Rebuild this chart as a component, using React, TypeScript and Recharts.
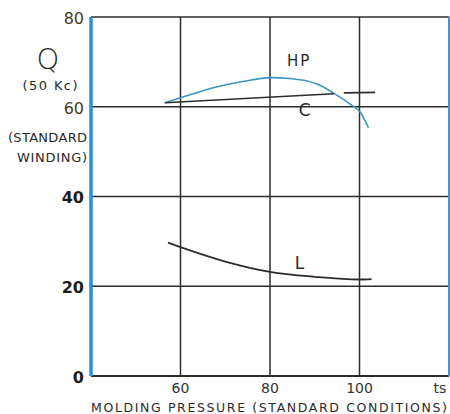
import { LineChart, Line, XAxis, YAxis, ReferenceLine, ReferenceDot } from 'recharts';

const xTicks = [60, 80, 100];
const yTicks = [0, 20, 40, 60, 80];
const hpCurve = [
  { p: 56.5, q: 60.9 },
  { p: 60.3, q: 62.1 },
  { p: 68, q: 64.4 },
  { p: 75.5, q: 65.9 },
  { p: 80, q: 66.5 },
  { p: 84.5, q: 66.3 },
  { p: 90.4, q: 65.1 },
  { p: 94.1, q: 63.1 },
  { p: 97.9, q: 60.6 },
  { p: 100.3, q: 58.6 },
  { p: 102, q: 55.3 },
];
const cLine = [
  { p: 56.5, q: 60.9 },
  { p: 94.3, q: 62.9 },
  { p: 95.2, q: null },
  { p: 96.5, q: 63.1 },
  { p: 103.5, q: 63.2 },
];
const lCurve = [
  { p: 57.2, q: 29.7 },
  { p: 60, q: 28.7 },
  { p: 70, q: 25.5 },
  { p: 80, q: 23.2 },
  { p: 90, q: 22.1 },
  { p: 100, q: 21.5 },
  { p: 102.7, q: 21.6 },
];
const curveLabels = [
  { text: 'HP', p: 86.5, q: 70.2 },
  { text: 'C', p: 88, q: 59.2 },
  { text: 'L', p: 86.8, q: 25.3 },
];

const ink = '#2b2d2c';
const blue = '#2a8fd8';
const font = '"DejaVu Sans", sans-serif';

const YTick = (props: any) => {
  const v = props.payload.value;
  const brown = v >= 60;
  return (
    <text x={84} y={props.y + 1} dy="0.36em" textAnchor="end" fontFamily={font}
      fontSize={16} fontWeight={v <= 40 ? 700 : 400} fill={brown ? '#4a3a22' : '#1c1c1c'}>
      {v}
    </text>
  );
};

const XTick = (props: any) => (
  <text x={props.x} y={props.y} dy="0.71em" textAnchor="middle" fontFamily={font} fontSize={14} fill="#333">
    {props.payload.value}
  </text>
);

export default function App() {
  return (
    <div style={{ position: 'absolute', left: 0, top: 0, width: 450, height: 414, background: '#fff' }}>
      <LineChart width={450} height={414} margin={{ top: 17, right: 1, bottom: 0, left: 0 }}>
        <XAxis type="number" dataKey="p" domain={[40, 120]} ticks={xTicks} allowDataOverflow
          axisLine={false} tickLine={false} tickSize={0} tickMargin={7} height={38} tick={XTick} />
        <YAxis type="number" domain={[0, 80]} ticks={yTicks} axisLine={false} tickLine={false}
          tickSize={0} width={91} tick={YTick} />
        {[20, 40, 60, 80].map((v) => (
          <ReferenceLine key={'h' + v} y={v} stroke={ink} strokeWidth={1.5} />
        ))}
        {xTicks.map((v) => (
          <ReferenceLine key={'v' + v} x={v} stroke={ink} strokeWidth={1.5} />
        ))}
        <ReferenceLine y={0} stroke={ink} strokeWidth={2} />
        <ReferenceLine x={120} stroke="#3a9ad0" strokeWidth={2} />
        <ReferenceLine x={40} stroke={blue} strokeWidth={3.5} />
        <Line data={hpCurve} dataKey="q" type="monotone" stroke="#3d95c4" strokeWidth={1.6} dot={false} isAnimationActive={false} />
        <Line data={cLine} dataKey="q" type="linear" stroke={ink} strokeWidth={1.6} dot={false} isAnimationActive={false} />
        <Line data={lCurve} dataKey="q" type="monotone" stroke={ink} strokeWidth={1.8} dot={false} isAnimationActive={false} />
        {curveLabels.map((l) => (
          <ReferenceDot key={l.text} x={l.p} y={l.q} r={0} stroke="none"
            label={{ value: l.text, position: 'center', fontFamily: font, fontSize: l.text === 'HP' ? 15 : 17, fill: '#2a2a2a', letterSpacing: 2 }} />
        ))}
      </LineChart>
      <svg width={450} height={414} style={{ position: 'absolute', left: 0, top: 0, pointerEvents: 'none' }}>
        <text x={48} y={69} textAnchor="middle" fontFamily={font} fontSize={29} fontWeight={300} fill="#2a2a2a">Q</text>
        <text x={50} y={90} textAnchor="middle" fontFamily={font} fontSize={13} fill="#2a2a2a" textLength={55}>(50 Kc)</text>
        <text x={8} y={142} fontFamily={font} fontSize={13} fill="#2a2a2a" textLength={79}>(STANDARD</text>
        <text x={17} y={162} fontFamily={font} fontSize={13} fill="#2a2a2a" textLength={70}>WINDING)</text>
        <text x={440} y={393} textAnchor="middle" fontFamily={font} fontSize={14} fill="#333">ts</text>
        <text x={91} y={412} fontFamily={font} fontSize={12.5} fill="#2a2a2a" textLength={356}>MOLDING PRESSURE (STANDARD CONDITIONS)</text>
      </svg>
    </div>
  );
}
